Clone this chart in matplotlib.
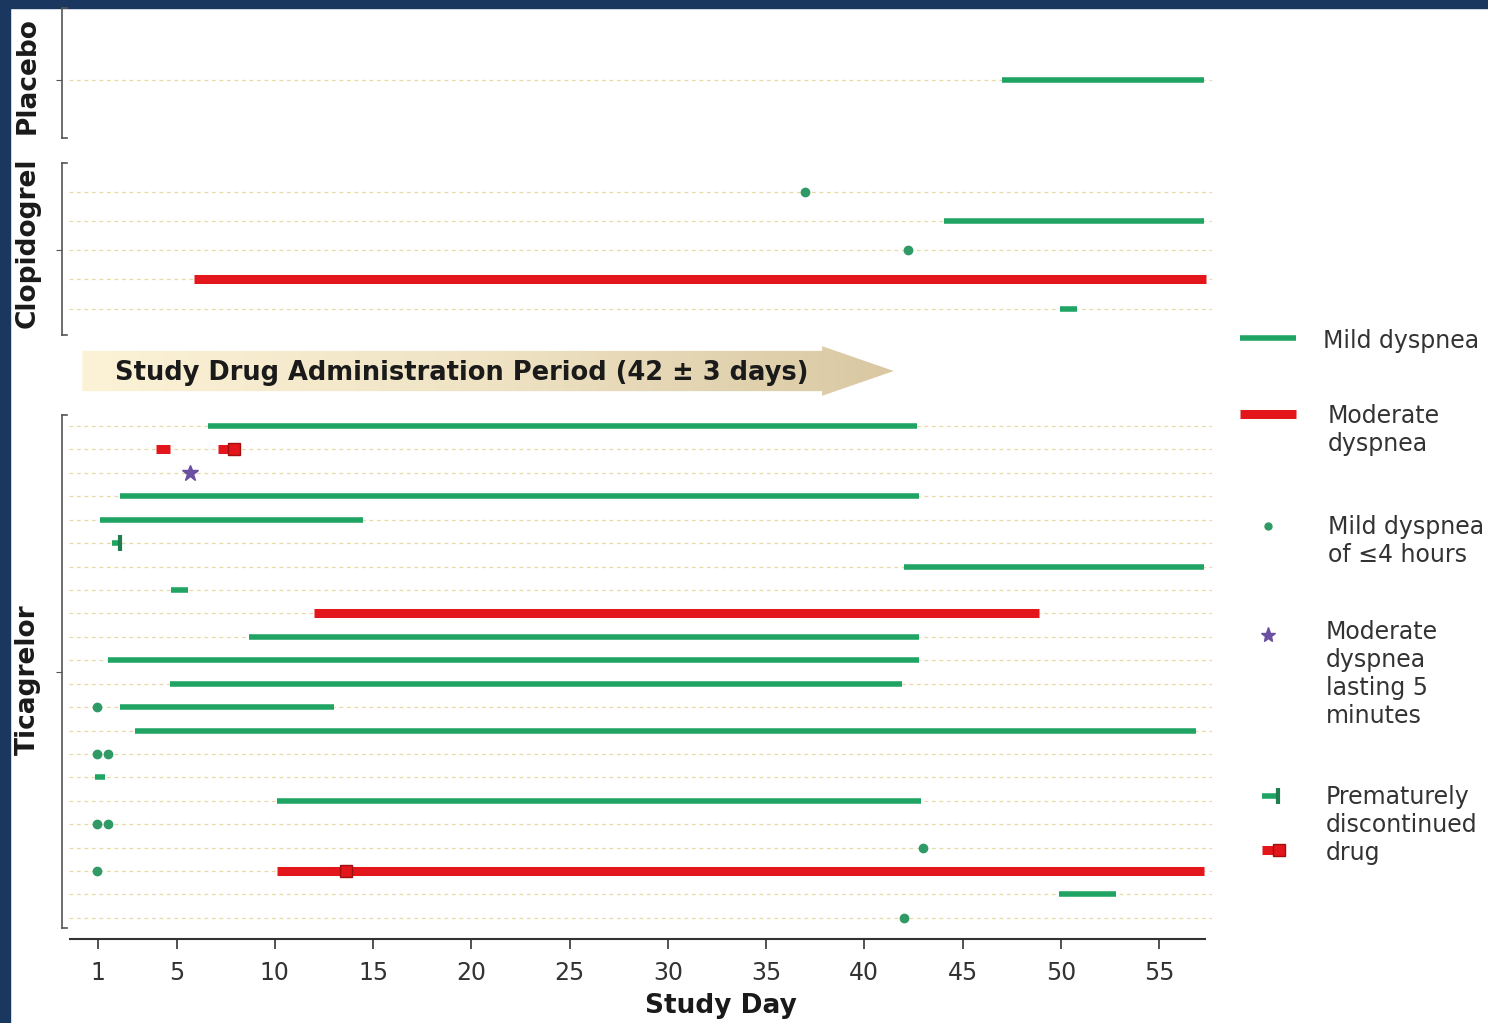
import numpy as np
import matplotlib
matplotlib.use('Agg')
import matplotlib.pyplot as plt
from matplotlib.patches import Polygon, Rectangle
from matplotlib.colors import LinearSegmentedColormap
from matplotlib.transforms import blended_transform_factory

# ---- data (study day of each episode, row = patient within group) ----
pla_rows = 1
pla_mild_row = [0]
pla_mild_start = [47.0]
pla_mild_end = [57.3]

clo_rows = 5
clo_mild_row = [1, 4]
clo_mild_start = [44.05, 49.95]
clo_mild_end = [57.3, 50.8]
clo_mod_row = [3]
clo_mod_start = [5.9]
clo_mod_end = [57.4]
clo_dot_row = [0, 2]
clo_dot_day = [37.0, 42.2]

tic_rows = 22
tic_mild_row = [0, 3, 4, 6, 7, 9, 10, 11, 12, 13, 15, 16, 20]
tic_mild_start = [6.6, 2.1, 1.1, 42.0, 4.7, 8.7, 1.5, 4.65, 2.1, 2.9, 0.85, 10.1, 49.9]
tic_mild_end = [42.7, 42.8, 14.5, 57.3, 5.6, 42.8, 42.8, 41.9, 13.0, 56.9, 1.35, 42.9, 52.8]
tic_mod_row = [1, 8, 19]
tic_mod_start = [3.95, 12.0, 10.1]
tic_mod_end = [4.65, 48.9, 57.3]
tic_dot_row = [12, 14, 14, 17, 17, 18, 19, 21]
tic_dot_day = [0.95, 0.95, 1.5, 0.95, 1.5, 43.0, 0.95, 42.0]
tic_star_row = [2]
tic_star_day = [5.7]
tic_stop_mild_row = [5]
tic_stop_mild_day = [2.2]
tic_stop_mod_row = [1, 19]
tic_stop_mod_day = [8.2, 13.9]

day_ticks = [1, 5, 10, 15, 20, 25, 30, 35, 40, 45, 50, 55]

GREEN = '#20a464'
DOT = '#2f9a66'
RED = '#e3161b'
PURPLE = '#6b4fa0'
GRID = '#e6d9a6'
AXC = '#555555'
TXT = '#333333'

W, H = 1488, 1023
fig = plt.figure(figsize=(W / 100, H / 100), dpi=100)
fig.patches.append(Rectangle((0, 1 - 8 / H), 1, 8 / H, transform=fig.transFigure,
                             color='#1a3760', zorder=-5))
fig.patches.append(Rectangle((0, 0), 10 / W, 1, transform=fig.transFigure,
                             color='#1a3760', zorder=-5))


def box(left, top, right, bottom):
    return [left / W, 1 - bottom / H, (right - left) / W, (bottom - top) / H]


XLIM = (-0.83, 57.69)


def panel(rect, ylim, nrows, tick, bracket):
    ax = fig.add_axes(rect)
    ax.set_xlim(XLIM)
    ax.set_ylim(ylim)
    ax.patch.set_alpha(0)
    for s in ['top', 'right', 'bottom']:
        ax.spines[s].set_visible(False)
    ax.spines['left'].set_bounds(*bracket)
    ax.spines['left'].set_color(AXC)
    ax.spines['left'].set_linewidth(1.2)
    tr = blended_transform_factory(ax.transAxes, ax.transData)
    for y in bracket:
        ax.plot([0, 0.0045], [y, y], transform=tr, color=AXC, lw=1.2, clip_on=False)
    ax.set_yticks([tick])
    ax.set_yticklabels([])
    ax.tick_params(axis='y', length=4, color=AXC)
    ax.set_xticks([])
    ax.hlines(range(nrows), -0.45, 57.7, colors=GRID, lw=0.9,
              linestyles=(0, (3, 3)), zorder=1)
    return ax


def draw_mild(ax, rows, start, end):
    ax.hlines(rows, start, end, colors=GREEN, lw=4, capstyle='butt', zorder=3)


def draw_mod(ax, rows, start, end):
    ax.hlines(rows, start, end, colors=RED, lw=6.5, capstyle='butt', zorder=3)


def draw_dots(ax, rows, days):
    ax.plot(days, rows, 'o', ms=6, color=DOT, zorder=4, ls='none')


ax_pla = panel(box(62, 8, 1212, 138), (1.99, -2.47), pla_rows, 0, (-2.47, 1.99))
draw_mild(ax_pla, pla_mild_row, pla_mild_start, pla_mild_end)

ax_clo = panel(box(62, 163, 1212, 337), (4.97, -0.99), clo_rows, 2, (-0.99, 4.9))
draw_mild(ax_clo, clo_mild_row, clo_mild_start, clo_mild_end)
draw_mod(ax_clo, clo_mod_row, clo_mod_start, clo_mod_end)
draw_dots(ax_clo, clo_dot_row, clo_dot_day)

ax_tic = panel(box(62, 415, 1212, 939), (21.9, -0.47), tic_rows, 10.5, (-0.47, 21.43))
draw_mild(ax_tic, tic_mild_row, tic_mild_start, tic_mild_end)
draw_mod(ax_tic, tic_mod_row, tic_mod_start, tic_mod_end)
draw_dots(ax_tic, tic_dot_row, tic_dot_day)
ax_tic.plot(tic_star_day, tic_star_row, '*', ms=12, color=PURPLE, ls='none', zorder=4)
for r, d in zip(tic_stop_mild_row, tic_stop_mild_day):
    ax_tic.hlines(r, d - 0.5, d, colors=GREEN, lw=4, zorder=3)
    ax_tic.plot(d - 0.1, r, marker='|', ms=12, mew=3, color='#1d7f4e', zorder=4)
for r, d in zip(tic_stop_mod_row, tic_stop_mod_day):
    ax_tic.hlines(r, d - 1.1, d, colors=RED, lw=6.5, zorder=3)
    ax_tic.plot(d - 0.3, r, marker='s', ms=9, color=RED, mec='#a01010', mew=1, zorder=4)

ax_tic.spines['bottom'].set_visible(True)
ax_tic.spines['bottom'].set_bounds(-0.43, 57.33)
ax_tic.spines['bottom'].set_color(TXT)
ax_tic.spines['bottom'].set_linewidth(1.5)
ax_tic.set_xticks(day_ticks)
ax_tic.tick_params(axis='x', length=7, width=1.2, pad=9, labelsize=17,
                   color=TXT, labelcolor=TXT)

# group labels
for name, yc in [('Placebo', 76), ('Clopidogrel', 243), ('Ticagrelor', 680)]:
    fig.text(28 / W, 1 - yc / H, name, rotation=90, ha='center', va='center',
             fontsize=19, fontweight='bold', color='#1a1a1a')
fig.text(721 / W, 1 - 1006 / H, 'Study Day', ha='center', va='center',
         fontsize=19, fontweight='bold', color='#1a1a1a')

# administration period arrow
ax_arr = fig.add_axes(box(62, 340, 1212, 402))
ax_arr.set_xlim(XLIM)
ax_arr.set_ylim(-1, 1)
ax_arr.axis('off')
pts = [(0.2, -0.65), (37.85, -0.65), (37.85, -0.8), (41.5, 0),
       (37.85, 0.8), (37.85, 0.65), (0.2, 0.65)]
arrow = Polygon(pts, closed=True, facecolor='none', edgecolor='none')
ax_arr.add_patch(arrow)
cmap = LinearSegmentedColormap.from_list('arr', ['#fcf2d6', '#efe3c4', '#d9c8a2'])
im = ax_arr.imshow(np.linspace(0, 1, 256).reshape(1, -1), cmap=cmap, aspect='auto',
                   extent=(0.2, 41.5, -0.8, 0.8), zorder=1)
im.set_clip_path(arrow)
ax_arr.text(1.87, -0.05, 'Study Drug Administration Period (42 \u00b1 3 days)',
            fontsize=18.5, fontweight='bold', va='center', color='#1a1a1a', zorder=2)

# legend
ax_leg = fig.add_axes(box(1220, 300, 1488, 900))
ax_leg.set_xlim(1220, 1488)
ax_leg.set_ylim(900, 300)
ax_leg.axis('off')
ax_leg.plot([1240, 1296], [338, 338], color=GREEN, lw=4, solid_capstyle='butt')
ax_leg.plot([1240, 1296], [414, 414], color=RED, lw=6.5, solid_capstyle='butt')
ax_leg.plot(1268, 526, 'o', ms=5, color=DOT)
ax_leg.plot(1268, 635, '*', ms=11, color=PURPLE)
ax_leg.plot([1262, 1276], [796, 796], color=GREEN, lw=4, solid_capstyle='butt')
ax_leg.plot(1278, 796, marker='|', ms=12, mew=3, color='#1d7f4e')
ax_leg.plot([1262, 1280], [850, 850], color=RED, lw=6.5, solid_capstyle='butt')
ax_leg.plot(1279, 850, marker='s', ms=9, color=RED, mec='#a01010', mew=1)
for label, x, y in [('Mild dyspnea', 1323, 341),
                    ('Moderate\ndyspnea', 1328, 430),
                    ('Mild dyspnea\nof \u22644 hours', 1328, 541),
                    ('Moderate\ndyspnea\nlasting 5\nminutes', 1326, 674),
                    ('Prematurely\ndiscontinued\ndrug', 1326, 825)]:
    ax_leg.text(x, y, label, fontsize=17, color=TXT, va='center', ha='left')

fig.savefig('out.png', dpi=100)
